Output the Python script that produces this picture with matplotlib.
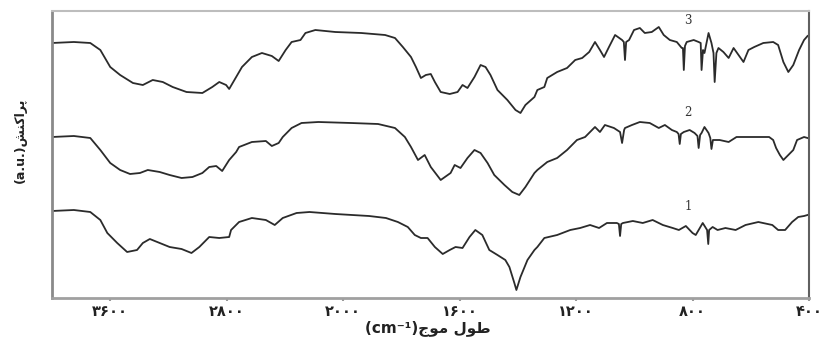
import numpy as np
import matplotlib
matplotlib.use("Agg")
import matplotlib.pyplot as plt

plt.rcParams['font.family'] = ['DejaVu Sans']

# ---- data (wavenumber cm^-1, intensity a.u.) ----
wn3 = [4000, 3850, 3737, 3668, 3600, 3532, 3444, 3376, 3308, 3239, 3171, 3076, 2967, 2899, 2851,
       2804, 2783, 2735, 2695, 2627, 2558, 2490, 2443, 2395, 2354, 2293, 2259, 2191, 2054, 1938,
       1856, 1822, 1795, 1767, 1750, 1733, 1716, 1699, 1685, 1665, 1634, 1607, 1590, 1573, 1549,
       1528, 1511, 1494, 1470, 1436, 1408, 1391, 1374, 1343, 1333, 1309, 1299, 1265, 1231, 1203,
       1179, 1155, 1135, 1118, 1104, 1087, 1066, 1042, 1036, 1032, 1028, 1018, 1001, 981, 964,
       940, 916, 899, 878, 854, 837, 833, 830, 826, 820, 796, 779, 772, 769, 764, 759, 745, 735,
       728, 724, 718, 711, 694, 676, 659, 642, 625, 608, 588, 557, 523, 506, 488, 471, 454, 434,
       417, 405]
int3 = [255, 256, 255, 248, 231, 223, 215, 213, 218, 216, 211, 206, 205, 211, 216,
        213, 209, 221, 231, 241, 245, 242, 237, 248, 256, 258, 265, 268, 266, 265,
        263, 260, 251, 241, 231, 220, 223, 224, 216, 206, 204, 206, 213, 210, 221,
        233, 231, 223, 208, 198, 188, 185, 193, 201, 208, 211, 220, 226, 230, 238,
        240, 246, 256, 248, 241, 251, 263, 258, 256, 238, 256, 258, 268, 270, 265,
        266, 271, 263, 258, 256, 250, 250, 228, 252, 256, 258, 256, 255, 228, 248, 245, 265, 255,
        245, 216, 245, 250, 246, 240, 250, 243, 236, 248, 251, 255, 256, 253, 236, 226, 233, 248,
        258, 262]

wn2 = [4000, 3850, 3737, 3668, 3600, 3532, 3464, 3396, 3342, 3260, 3192, 3110, 3035, 2967, 2920,
       2872, 2831, 2783, 2735, 2715, 2627, 2531, 2490, 2443, 2415, 2354, 2286, 2170, 1973, 1880,
       1822, 1788, 1767, 1743, 1720, 1699, 1665, 1631, 1617, 1597, 1573, 1549, 1528, 1504, 1481,
       1446, 1419, 1395, 1374, 1343, 1333, 1299, 1265, 1231, 1197, 1169, 1152, 1135, 1118, 1101,
       1070, 1049, 1042, 1035, 1032, 1008, 981, 947, 916, 895, 871, 854, 848, 844, 840, 830, 810,
       793, 783, 779, 774, 769, 759, 745, 739, 735, 730, 724, 707, 676, 649, 615, 581, 537, 523,
       513, 500, 488, 471, 454, 441, 417, 405]
int2 = [161, 162, 160, 148, 135, 128, 124, 125, 128, 126, 123, 120, 121, 125, 131,
        132, 127, 138, 146, 151, 156, 157, 152, 155, 161, 170, 175, 176, 175, 174,
        170, 161, 151, 138, 143, 131, 118, 125, 133, 130, 140, 148, 145, 135, 123,
        113, 106, 103, 111, 125, 128, 136, 140, 148, 158, 161, 166, 171, 166, 173,
        170, 166, 155, 168, 170, 173, 176, 175, 170, 173, 168, 166, 164, 154, 164, 166, 168,
        165, 162, 150, 163, 165, 171, 165, 160, 149, 158, 158, 158, 156, 161, 161, 161, 161, 158,
        150, 143, 138, 143, 148, 158, 161, 160]

wn1 = [4000, 3850, 3737, 3668, 3620, 3552, 3484, 3416, 3376, 3328, 3260, 3192, 3110, 3042, 2988,
       2920, 2851, 2783, 2770, 2715, 2627, 2531, 2470, 2415, 2320, 2231, 2054, 1911, 1853, 1812,
       1778, 1754, 1733, 1710, 1685, 1658, 1634, 1614, 1590, 1566, 1546, 1522, 1498, 1470, 1443,
       1429, 1412, 1405, 1391, 1367, 1343, 1333, 1309, 1265, 1220, 1186, 1152, 1121, 1094, 1060,
       1053, 1049, 1045, 1039, 1005, 971, 937, 902, 868, 847, 823, 800, 789, 765, 750, 746, 743,
       731, 714, 687, 652, 618, 574, 526, 506, 482, 458, 437, 417, 405]
int1 = [87, 88, 86, 78, 65, 55, 46, 48, 55, 59, 55, 51, 49, 45, 51,
        61, 60, 61, 68, 76, 80, 78, 73, 80, 85, 86, 84, 82, 80, 76,
        71, 63, 60, 60, 51, 44, 48, 51, 50, 61, 68, 63, 48, 43, 38,
        31, 15, 8, 21, 38, 48, 51, 60, 63, 68, 70, 73, 70, 75, 75,
        74, 62, 74, 75, 77, 75, 78, 73, 70, 68, 72, 65, 63, 75, 68, 54, 68,
        71, 68, 70, 68, 73, 76, 73, 68, 68, 76, 81, 82, 83]

curve_labels = ["3", "2", "1"]
xticks = [3600, 2800, 2000, 1600, 1200, 800, 400]
xtick_labels = ["۳۶۰۰", "۲۸۰۰", "۲۰۰۰", "۱۶۰۰", "۱۲۰۰", "۸۰۰", "۴۰۰"]

# visual-order (pre-shaped) Persian labels
xlabel_fa = "(cm⁻¹)" + "\uFE9D\uFEEE\uFEE3 \uFEDD\uFEEE\uFEC3"   # طول موج (cm⁻¹)
ylabel_fa = "(a.u.)" + "\uFEB6\uFEE8\uFB90\uFE8D\uFEAE\uFB58"     # پراکنش (a.u.)


def fwd(x):
    x = np.asarray(x, dtype=float)
    return np.where(x > 2000, 2000 + (x - 2000) * 0.5, x)


def inv(y):
    y = np.asarray(y, dtype=float)
    return np.where(y > 2000, 2000 + (y - 2000) * 2.0, y)


fig = plt.figure(figsize=(8.21, 3.38), dpi=100)
ax = fig.add_axes([52 / 821, 1 - 298 / 338, (809 - 52) / 821, (298 - 11) / 338])
ax.set_xscale('function', functions=(fwd, inv))

for wn, it in zip([wn3, wn2, wn1], [int3, int2, int1]):
    ax.plot(wn, it, color='#2b2b2b', lw=1.3, solid_joinstyle='round')

ax.set_xlim(4000, 405)
ax.set_ylim(0, 287)

ax.set_xticks(xticks)
ax.set_xticklabels(xtick_labels, fontsize=10.5, fontweight='bold', color='#222222')
ax.tick_params(axis='x', direction='out', length=2, width=1.5, color='#999999', pad=2)
ax.set_yticks([])
ax.xaxis.set_minor_locator(matplotlib.ticker.NullLocator())

ax.spines['top'].set_color('#bdbdbd')
ax.spines['top'].set_linewidth(1.5)
ax.spines['left'].set_color('#8a8a8a')
ax.spines['left'].set_linewidth(2.0)
ax.spines['right'].set_color('#606060')
ax.spines['right'].set_linewidth(1.5)
ax.spines['bottom'].set_color('#a0a0a0')
ax.spines['bottom'].set_linewidth(2.0)

# curve labels
for lab, yy in zip(curve_labels, [278, 185, 91]):
    ax.text(815, yy, lab, fontsize=8.5, ha='center', va='center', color='#333333',
            family='DejaVu Serif')

fig.text(428 / 821, 1 - 328 / 338, xlabel_fa, ha='center', va='center',
         fontsize=11, fontweight='bold', color='#222222')
fig.text(20 / 821, 1 - 140 / 338, ylabel_fa, ha='center', va='center', rotation=90,
         fontsize=9, fontweight='bold', color='#222222')

fig.savefig('out.png', dpi=100)
